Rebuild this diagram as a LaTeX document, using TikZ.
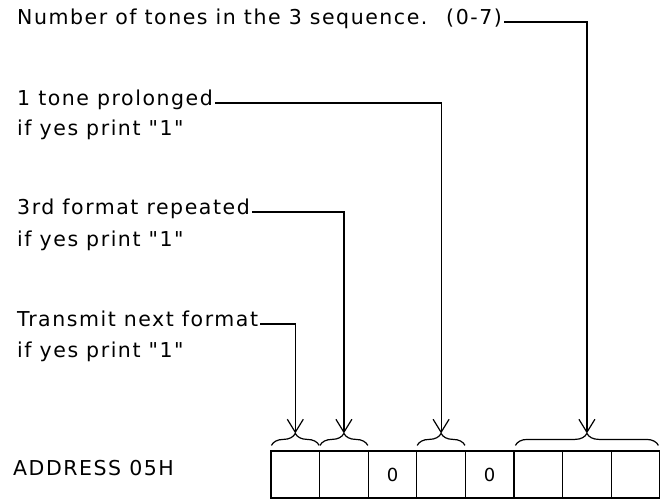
\documentclass[tikz,border=0pt]{standalone}
\usepackage{fontspec}
\setmainfont{DejaVu Sans}[LetterSpace=7.5,Ligatures=TeXOff]
\usetikzlibrary{arrows.meta,decorations.pathreplacing}
\usetikzlibrary{positioning}

\begin{document}
\begin{tikzpicture}[x=1pt,y=-1pt]
	 \tikzstyle{label}=[anchor=mid west,inner sep=2pt,font=\fontsize{20.5}{24}\selectfont]
	 \tikzstyle{cell}=[draw,line width=1.2pt,minimum width=48.6pt,minimum height=47pt,inner sep=0pt,font=\fontsize{18}{22}\selectfont]
	 \tikzstyle{lead}=[draw,line width=1.2pt,-{Straight Barb[length=13pt,width=16pt]}]
	 \tikzstyle{brc}=[draw,line width=1.2pt,decorate,decoration={brace,amplitude=12pt}]
	 \useasboundingbox (0,0) rectangle (668,500);

	 % texts
	 \node[label] (tones) at (15,22) {Number of tones in the 3 sequence.~ (0-7)};
	 \node[label] (prolong) at (15,103) {1 tone prolonged};
	 \node[label] (yes1) at (15,133) {if yes print "1"};
	 \node[label] (repeat) at (15,212) {3rd format repeated};
	 \node[label] (yes2) at (15,244) {if yes print "1"};
	 \node[label] (transmit) at (15,324) {Transmit next format};
	 \node[label] (yes3) at (15,355) {if yes print "1"};
	 \node[label] (addr) at (11,473) {ADDRESS 05H};

	 % register cells
	 \foreach \i/\t in {1/,2/,3/0,4/,5/0,6/,7/,8/}
	 	\node[cell] (c\i) at (246.7+48.6*\i,474.5) {\t};

	 % braces
	 \draw[brc] ([xshift=1pt,yshift=5pt]c1.north west) -- ([xshift=-1pt,yshift=5pt]c1.north east);
	 \draw[brc] ([xshift=1pt,yshift=5pt]c2.north west) -- ([xshift=-1pt,yshift=5pt]c2.north east);
	 \draw[brc] ([xshift=1pt,yshift=5pt]c4.north west) -- ([xshift=-1pt,yshift=5pt]c4.north east);
	 \draw[brc] ([xshift=2pt,yshift=5pt]c6.north west) -- ([xshift=-2pt,yshift=5pt]c8.north east);

	 \coordinate[above=17pt of c1.north] (t1);
	 \coordinate[above=17pt of c2.north] (t2);
	 \coordinate[above=17pt of c4.north] (t4);
	 \coordinate[above=17pt of c7.north] (t7);

	 \draw[lead] (tones.mid east) -| (t7);
	 \draw[lead] (prolong.mid east) -| (t4);
	 \draw[lead] (repeat.mid east) -| (t2);
	 \draw[lead] (transmit.mid east) -| (t1);

\end{tikzpicture}
\end{document}
